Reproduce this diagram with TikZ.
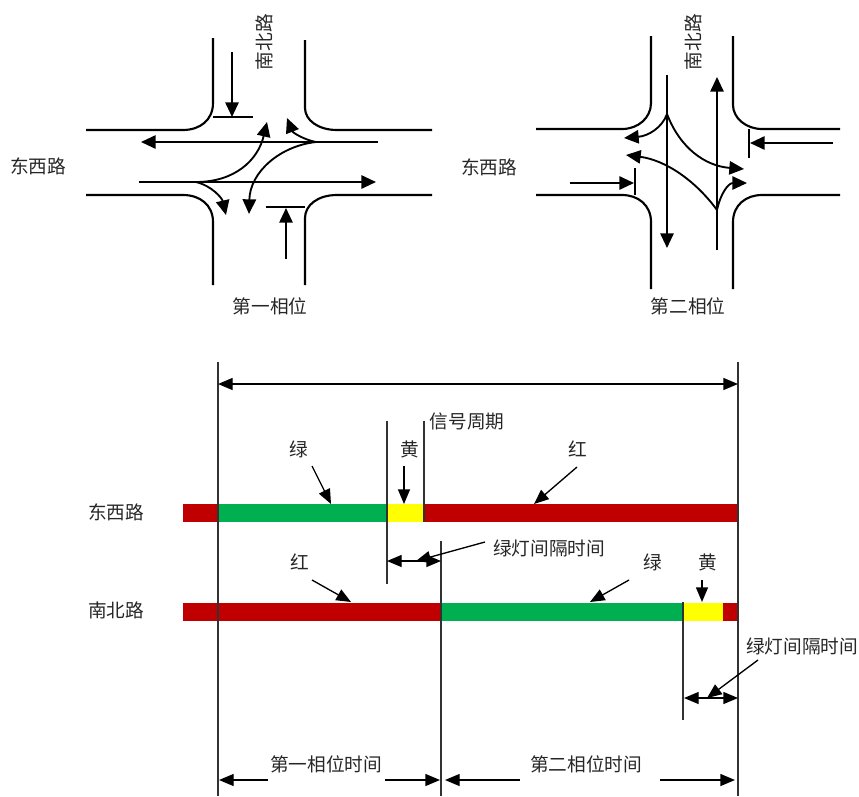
\documentclass[tikz,border=0pt]{standalone}
\usepackage{fontspec}
\setmainfont{Noto Sans CJK SC}
\usetikzlibrary{arrows.meta}
\definecolor{barred}{RGB}{192,0,0}
\definecolor{bargreen}{RGB}{0,176,80}
\definecolor{baryellow}{RGB}{255,255,0}
\definecolor{guide}{RGB}{50,50,50}
\tikzset{
  road/.style={line width=1.6pt,black},
  flow/.style={line width=1.4pt,black,-{Triangle[length=11pt,width=10pt]}},
  stopline/.style={line width=1.2pt,black},
  guideline/.style={line width=1.1pt,guide},
  note/.style={line width=1pt,black,-{Triangle[length=11pt,width=9pt]}},
  dim/.style={line width=1pt,black,{Triangle[length=11pt,width=9pt]}-{Triangle[length=11pt,width=9pt]}},
  dimhalf/.style={line width=1pt,black,-{Triangle[length=11pt,width=9pt]}},
  lab/.style={font=\fontsize{14pt}{14pt}\selectfont,inner sep=0pt,text=black!85},
}
\begin{document}
\begin{tikzpicture}[x=0.75pt,y=-0.75pt]
\useasboundingbox (0,0) rectangle (859,796);
% ---------- phase 1 intersection
\draw[road] (213,38) -- (213,103) .. controls (213,120) and (200,130) .. (183,130) -- (86,130);
\draw[road] (305,40) -- (305,108) .. controls (305,120) and (318,130) .. (337,130) -- (432,130);
\draw[road] (86,195) -- (183,195) .. controls (200,195) and (213,205) .. (213,222) -- (213,285);
\draw[road] (432,195) -- (337,195) .. controls (318,195) and (305,205) .. (305,218) -- (305,285);
\draw[stopline] (213,117) -- (253,117);
\draw[stopline] (266,207) -- (305,207);
\coordinate (a1) at (232,52); \coordinate (a1e) at (232,117);
\coordinate (a2) at (286,259); \coordinate (a2e) at (286,208);
\draw[flow] (a1) -- (a1e);
\draw[flow] (a2) -- (a2e);
\coordinate (w1) at (378,142); \coordinate (w1e) at (141,142);
\coordinate (e1) at (139,182); \coordinate (e1e) at (376,182);
\draw[flow] (w1) -- (w1e);
\draw[flow] (e1) -- (e1e);
\coordinate (p1) at (196,182); \coordinate (p2) at (316,142);
\draw[flow] (p1) .. controls (235,182) and (258,160) .. (267,122);
\draw[flow] (p1) .. controls (212,186) and (222,198) .. (226,215);
\draw[flow] (p2) .. controls (305,140) and (293,133) .. (287,118);
\draw[flow] (p2) .. controls (280,146) and (250,172) .. (249,214);
% ---------- phase 2 intersection
\draw[road] (651,36) -- (651,103) .. controls (651,118) and (638,129) .. (622,129) -- (536,129);
\draw[road] (733,36) -- (733,105) .. controls (733,118) and (746,129) .. (762,129) -- (840,129);
\draw[road] (536,195) -- (622,195) .. controls (638,195) and (651,205) .. (651,222) -- (651,289);
\draw[road] (840,195) -- (762,195) .. controls (746,195) and (733,205) .. (733,222) -- (733,289);
\draw[stopline] (749,129) -- (749,158);
\draw[stopline] (635,168) -- (635,195);
\coordinate (b1) at (833,143); \coordinate (b1e) at (750,143);
\coordinate (b2) at (570,183); \coordinate (b2e) at (634,183);
\draw[flow] (b1) -- (b1e);
\draw[flow] (b2) -- (b2e);
\coordinate (s1) at (667,75); \coordinate (s1e) at (667,248);
\coordinate (n1) at (717,250); \coordinate (n1e) at (717,77);
\draw[flow] (s1) -- (s1e);
\draw[flow] (n1) -- (n1e);
\coordinate (q1) at (667,114); \coordinate (q2) at (717,210);
\draw[flow] (q1) .. controls (662,128) and (648,136) .. (624,138);
\draw[flow] (q1) .. controls (680,148) and (705,166) .. (744,169);
\draw[flow] (q2) .. controls (720,195) and (728,183) .. (747,183);
\draw[flow] (q2) .. controls (695,180) and (665,160) .. (626,155);
% ---------- road labels
\node[lab] (l1) at (38,166) {东西路};
\node[lab] (l2) at (489,167) {东西路};
\node[lab,rotate=90] (l3) at (264,42) {南北路};
\node[lab,rotate=90] (l4) at (693,42) {南北路};
\node[lab] (l5) at (270,306) {第一相位};
\node[lab] (l6) at (688,306) {第二相位};
% ---------- timing bars
\fill[barred] (183,504) rectangle (218,522);
\fill[bargreen] (218,504) rectangle (387,522);
\fill[baryellow] (387,504) rectangle (423,522);
\fill[barred] (423,504) rectangle (738,522);
\fill[barred] (183,602.5) rectangle (441,621);
\fill[bargreen] (441,602.5) rectangle (683,621);
\fill[baryellow] (683,602.5) rectangle (723,621);
\fill[barred] (723,602.5) rectangle (738,621);
% ---------- guides
\draw[guideline] (218,362) -- (218,796);
\draw[guideline] (738,362) -- (738,796);
\draw[guideline] (441,541) -- (441,796);
\draw[guideline] (387,421) -- (387,584);
\draw[guideline] (424,421) -- (424,522);
\draw[guideline] (683,602) -- (683,720);
% ---------- dimensions
\coordinate (c1) at (218,384); \coordinate (c2) at (738,384);
\draw[dim] (c1) -- (c2);
\coordinate (c3) at (387,561); \coordinate (c4) at (441,561);
\draw[dim] (c3) -- (c4);
\coordinate (c5) at (684,698); \coordinate (c6) at (738,698);
\draw[dim] (c5) -- (c6);
\coordinate (t1) at (268,780); \coordinate (t1e) at (219,780);
\coordinate (t2) at (385,780); \coordinate (t2e) at (440,780);
\coordinate (t3) at (520,780); \coordinate (t3e) at (445,780);
\coordinate (t4) at (660,780); \coordinate (t4e) at (735,780);
\draw[dimhalf] (t1) -- (t1e);
\draw[dimhalf] (t2) -- (t2e);
\draw[dimhalf] (t3) -- (t3e);
\draw[dimhalf] (t4) -- (t4e);
% ---------- texts
\node[lab] (n1a) at (467,421) {信号周期};
\node[lab] (n2a) at (299,449) {绿};
\node[lab] (n3a) at (410,449) {黄};
\node[lab] (n4a) at (578,449) {红};
\node[lab] (n5a) at (116,512) {东西路};
\node[lab] (n6a) at (116,610) {南北路};
\node[lab] (n7a) at (549,548) {绿灯间隔时间};
\node[lab] (n8a) at (300,562) {红};
\node[lab] (n9a) at (653,562) {绿};
\node[lab] (n10a) at (708,562) {黄};
\node[lab] (n11a) at (802,646) {绿灯间隔时间};
\node[lab] (n12a) at (326,764) {第一相位时间};
\node[lab] (n13a) at (586,764) {第二相位时间};
% ---------- pointers
\coordinate (g1) at (312,466); \coordinate (g1e) at (331,504);
\coordinate (g2) at (404,466); \coordinate (g2e) at (404,504);
\coordinate (g3) at (577,467); \coordinate (g3e) at (534,504);
\coordinate (g4) at (485,542); \coordinate (g4e) at (416,561);
\coordinate (g5) at (312,580); \coordinate (g5e) at (351,602);
\coordinate (g6) at (629,580); \coordinate (g6e) at (590,602);
\coordinate (g7) at (702,580); \coordinate (g7e) at (702,602);
\coordinate (g8) at (758,660); \coordinate (g8e) at (707,698);
\foreach \s/\e in {g1/g1e,g2/g2e,g3/g3e,g4/g4e,g5/g5e,g6/g6e,g7/g7e,g8/g8e}
  \draw[note] (\s) -- (\e);
\end{tikzpicture}
\end{document}
